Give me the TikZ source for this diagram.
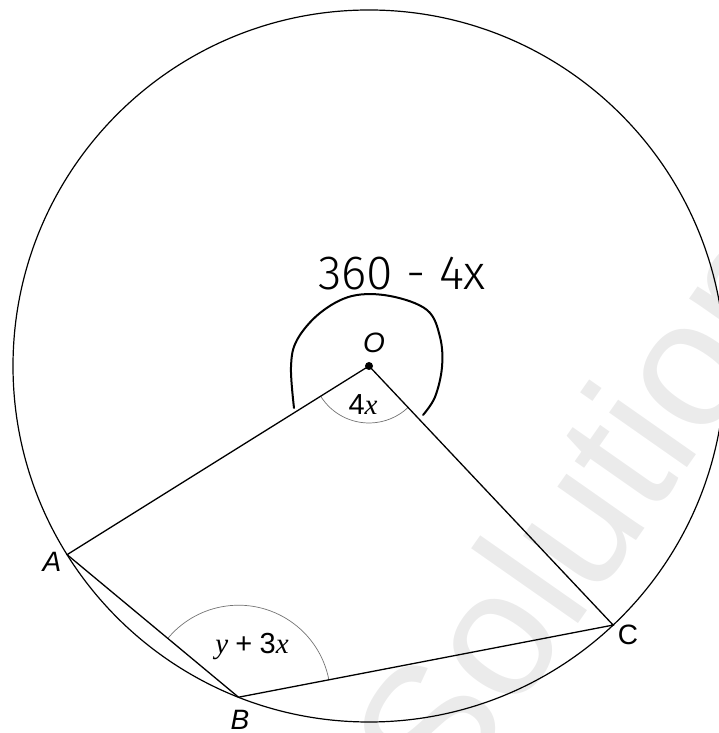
\documentclass[tikz,border=0pt]{standalone}
\usepackage{fontspec}
\setmainfont{Liberation Sans}
\newfontfamily\tnr{Liberation Serif}
\IfFontExistsTF{Fira Sans Light}{\newfontfamily\handfont{Fira Sans Light}}{\newfontfamily\handfont{Liberation Sans}}
\usetikzlibrary{calc,angles}
\begin{document}
\begin{tikzpicture}[x=1pt,y=1pt,
  lbl/.style={font=\fontsize{28}{32}\selectfont\itshape, inner sep=0pt},
  anglbl/.style={font=\fontsize{29}{33}\selectfont, inner sep=0pt},
  edge/.style={line width=1.3pt, line cap=round},
  anglearc/.style={draw=black!55, line width=0.7pt},
  hand/.style={line width=2pt, line cap=round, line join=round},
  wm/.style={text=black!8, font=\fontsize{180}{200}\selectfont, inner sep=0pt}]
\useasboundingbox (0,0) rectangle (719,733);
\coordinate (O) at (369,367);
\begin{scope}
  \clip (0,0) rectangle (719,733);
  \node[wm, rotate=55, anchor=base west] (wm) at (445,-81) {Solutions};
  \draw[line width=1.2pt] (O) circle[radius=356];
\end{scope}
\coordinate (A) at ($(O)+(212:356)$);
\coordinate (B) at ($(O)+(248.5:356)$);
\coordinate (C) at ($(O)+(313.3:356)$);
\pic[anglearc, angle radius=57pt] {angle = A--O--C};
\pic[anglearc, angle radius=92pt] {angle = C--B--A};
\draw[edge] (O) -- (A) -- (B) -- (C) -- (O);
\node[circle, fill=black, inner sep=0pt, minimum size=8pt] (dot) at (O) {};
\node[lbl] (lO) at (374,390) {O};
\node[lbl] (lA) at (52,171) {A};
\node[lbl] (lB) at (240,13) {B};
\node[lbl, font=\fontsize{28}{32}\selectfont] (lC) at (628,98) {C};
\node[anglbl] (l4x) at (363,328) {4{\tnr\itshape x}};
\node[anglbl] (lyx) at (252,86) {{\tnr\itshape y}\hspace{0.25em}+\hspace{0.25em}3{\tnr\itshape x}};
\node[font=\handfont\fontsize{48}{56}\selectfont, inner sep=0pt] (hw) at (402,459) {360 - 4x};
\draw[hand] plot[smooth, tension=0.6] coordinates {(294,325) (291,366) (297,393) (320,420) (352,437) (390,437) (427,423) (440,396) (442,366) (435,336) (423,318)};
\end{tikzpicture}
\end{document}
